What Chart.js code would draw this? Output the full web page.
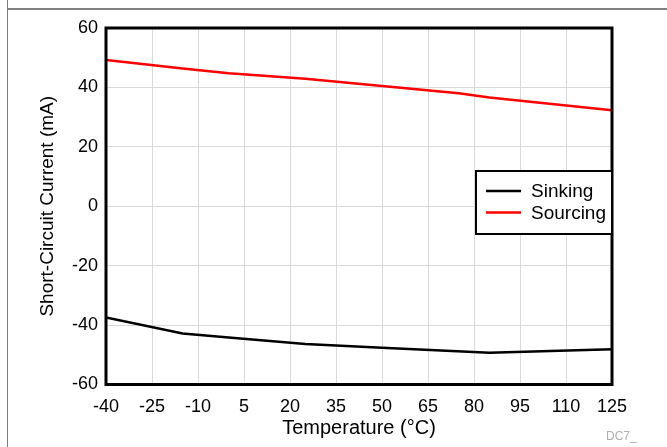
<!DOCTYPE html>
<html>
<head>
<meta charset="utf-8">
<script src="https://cdn.jsdelivr.net/npm/chart.js@4.4.1/dist/chart.umd.min.js"></script>
<style>
  html, body { margin: 0; padding: 0; background: #fff; }
  #wrap { position: relative; width: 667px; height: 447px; }
</style>
</head>
<body>
<div id="wrap"><canvas id="scChart" width="667" height="447"></canvas></div>
<script>
// values
const sinkTemps = [-40, -15, 0, 25, 50, 85, 125];
const sinkCurrent = [-37.4, -42.8, -44.2, -46.4, -47.6, -49.3, -48.1];
const sourceTemps = [-40, -15, 0, 25, 50, 75, 85, 125];
const sourceCurrent = [49.2, 46.4, 44.8, 42.9, 40.5, 38.0, 36.6, 32.3];
const xTicks = [-40, -25, -10, 5, 20, 35, 50, 65, 80, 95, 110, 125];
const yTicks = [-60, -40, -20, 0, 20, 40, 60];

const fontFamily = '"Liberation Sans", Arial, sans-serif';

function toPoints(xs, ys) {
    return xs.map((x, i) => ({ x: x, y: ys[i] }));
}

// gray frame lines, plot border and the boxed legend
const decorations = {
    id: 'decorations',
    beforeDraw(chart) {
        const ctx = chart.ctx;
        ctx.save();
        ctx.fillStyle = '#fff';
        ctx.fillRect(0, 0, chart.width, chart.height);
        ctx.strokeStyle = '#7f7f7f';
        ctx.lineWidth = 2;
        ctx.beginPath();
        ctx.moveTo(7, 9);
        ctx.lineTo(chart.width, 9);
        ctx.stroke();
        ctx.lineWidth = 1;
        ctx.beginPath();
        ctx.moveTo(7.5, 0);
        ctx.lineTo(7.5, chart.height);
        ctx.stroke();
        ctx.restore();
    },
    afterDraw(chart) {
        const ctx = chart.ctx;
        const a = chart.chartArea;
        ctx.save();
        ctx.strokeStyle = '#000';
        ctx.lineWidth = 3;
        ctx.strokeRect(a.left, a.top, a.right - a.left, a.bottom - a.top);

        // legend box
        const box = { left: 476, top: 171, right: a.right, bottom: 234 };
        ctx.fillStyle = '#fff';
        ctx.fillRect(box.left, box.top, box.right - box.left, box.bottom - box.top);
        ctx.lineWidth = 2;
        ctx.strokeRect(box.left, box.top, box.right - box.left, box.bottom - box.top);
        ctx.font = '19px ' + fontFamily;
        ctx.textBaseline = 'middle';
        chart.data.datasets.forEach((ds, i) => {
            const y = 191 + i * 21.5;
            ctx.strokeStyle = ds.borderColor;
            ctx.lineWidth = 2.5;
            ctx.beginPath();
            ctx.moveTo(486, y);
            ctx.lineTo(521, y);
            ctx.stroke();
            ctx.fillStyle = '#000';
            ctx.fillText(ds.label, 531, y + 1);
        });

        ctx.fillStyle = '#b0b0b0';
        ctx.font = '12px ' + fontFamily;
        ctx.fillText('DC7_', 606, 437);
        ctx.restore();
    }
};

const chartCanvas = document.getElementById('scChart');
new Chart(chartCanvas, {
    type: 'line',
    data: {
        datasets: [{
            label: 'Sinking',
            data: toPoints(sinkTemps, sinkCurrent),
            borderColor: '#000000',
            borderWidth: 2.5,
            pointRadius: 0,
            tension: 0
        }, {
            label: 'Sourcing',
            data: toPoints(sourceTemps, sourceCurrent),
            borderColor: '#ff0000',
            borderWidth: 2.5,
            pointRadius: 0,
            tension: 0
        }]
    },
    options: {
        responsive: false,
        animation: false,
        layout: { padding: { top: 28, right: 55, left: 0, bottom: 0 } },
        plugins: {
            legend: { display: false },
            tooltip: { enabled: false }
        },
        scales: {
            x: {
                type: 'linear',
                min: -40,
                max: 125,
                afterBuildTicks: s => { s.ticks = xTicks.map(v => ({ value: v })); },
                afterFit: s => { s.height = 62.5; },
                grid: { color: '#d9d9d9', lineWidth: 1, drawTicks: false },
                border: { display: false },
                ticks: {
                    padding: 12,
                    maxRotation: 0,
                    autoSkip: false,
                    color: '#000',
                    font: { family: fontFamily, size: 18 }
                },
                title: {
                    display: true,
                    text: 'Temperature (°C)',
                    color: '#000',
                    font: { family: fontFamily, size: 20 },
                    padding: { top: 0, bottom: 7 }
                }
            },
            y: {
                min: -60,
                max: 60,
                afterBuildTicks: s => { s.ticks = yTicks.map(v => ({ value: v })); },
                afterFit: s => { s.width = 106; },
                grid: { color: '#d9d9d9', lineWidth: 1, drawTicks: false },
                border: { display: false },
                ticks: {
                    padding: 8,
                    color: '#000',
                    font: { family: fontFamily, size: 18 }
                },
                title: {
                    display: true,
                    text: 'Short-Circuit Current (mA)',
                    color: '#000',
                    font: { family: fontFamily, size: 19 },
                    padding: { top: 36, bottom: 0 }
                }
            }
        }
    },
    plugins: [decorations]
});
</script>
</body>
</html>
